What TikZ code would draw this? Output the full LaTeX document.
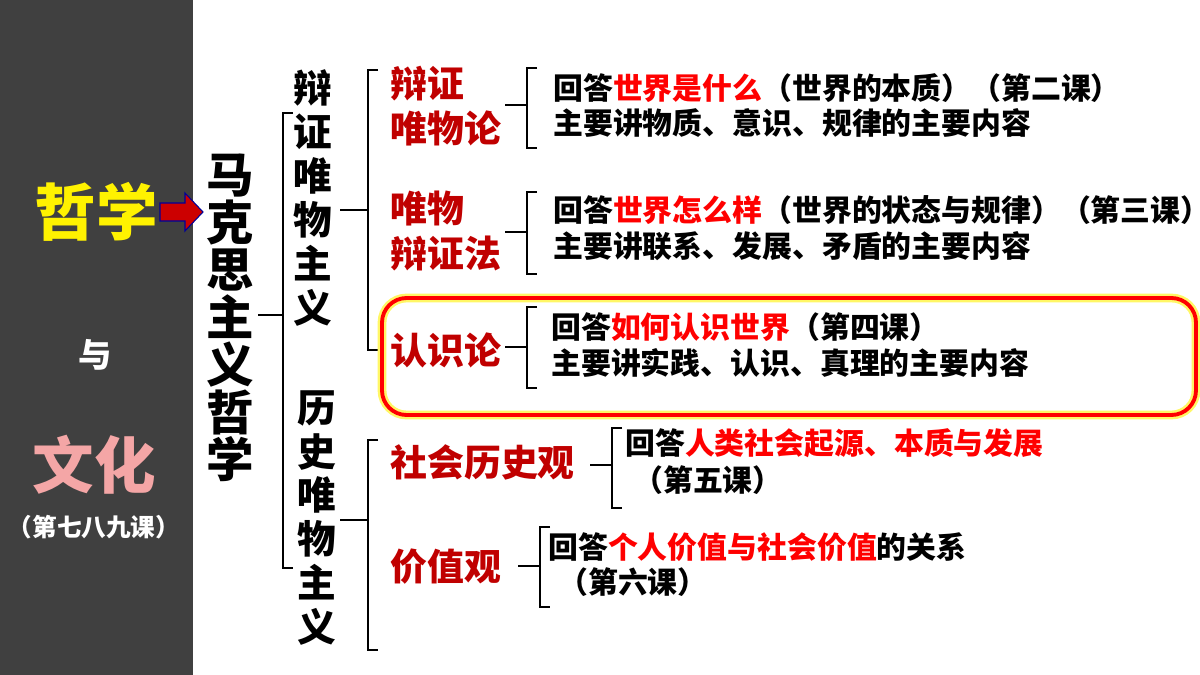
\documentclass[tikz,border=0pt]{standalone}
\usepackage{fontspec}
\setmainfont{Noto Sans CJK SC}
\usetikzlibrary{arrows.meta}
\definecolor{darkred}{HTML}{C00000}
\definecolor{panel}{HTML}{404040}
\definecolor{pinkish}{HTML}{F4A6A6}
\tikzset{
  lbl/.style={text=darkred,font=\fontsize{21}{26}\selectfont\bfseries,anchor=west,align=left,inner sep=0pt},
  txt/.style={font=\fontsize{17}{20}\selectfont\bfseries,anchor=west,inner sep=0pt},
  vert/.style 2 args={font=\fontsize{#1}{#2}\selectfont\bfseries,align=center,inner sep=0pt},
  brk/.style={line width=1.2pt}
}
\newcommand{\hl}[1]{\textcolor{red}{#1}}
% bracket: x, top, tip, bottom, stub end
\newcommand{\brk}[5]{\draw[brk] (#1+10,#2) -- (#1,#2) -- (#1,#3) -- (#5,#3) (#1,#3) -- (#1,#4) -- (#1+10,#4);}
\begin{document}
\begin{tikzpicture}[x=0.02cm,y=-0.02cm]
\useasboundingbox (0,0) rectangle (1200,675);
\fill[panel] (0,0) rectangle (193,675);
%\draw[step=50,gray,very thin] (0,0) grid (1200,675);
\node[text=yellow,font=\fontsize{35}{36}\selectfont\bfseries] (zhe) at (96,212) {哲学};
\node[text=white,font=\fontsize{19}{20}\selectfont\bfseries] (yu) at (95,355) {与};
\node[text=pinkish,font=\fontsize{35}{36}\selectfont\bfseries] (wh) at (94,465) {文化};
\node[text=white,font=\fontsize{14}{16}\selectfont\bfseries] (kc) at (94,527) {（第七八九课）};
\filldraw[fill=red!80!black,draw=blue!60!black,line width=0.6pt]
  (160,203) -- (185,203) -- (185,193) -- (203,212) -- (185,231) -- (185,221) -- (160,221) -- cycle;
\node[vert={27}{27}] (mks) at (230,318) {马\\克\\思\\主\\义\\哲\\学};
\brk{283}{113}{315}{568}{258}
\node[vert={22}{25}] (bz) at (313,198) {辩\\证\\唯\\物\\主\\义};
\node[vert={22}{25}] (ls) at (317,518) {历\\史\\唯\\物\\主\\义};
\brk{368}{70}{210}{350}{340}
\brk{368}{440}{520}{650}{340}
% highlight box
\draw[rounded corners=14pt,yellow!60,line width=5pt] (382,298) rectangle (1196,415);
\draw[rounded corners=14pt,red,line width=2.2pt] (382,298) rectangle (1196,415);
\node[lbl] (bzwwl) at (390,106) {辩证\\唯物论};
\node[lbl] (wwbzf) at (390,231) {唯物\\辩证法};
\node[lbl] (rsl) at (390,350) {认识论};
\node[lbl] (shlsg) at (390,462) {社会历史观};
\node[lbl] (jzg) at (390,567) {价值观};
\brk{527}{68}{105}{148}{505}
\brk{527}{192}{232}{274}{505}
\brk{527}{307}{347}{388}{505}
\brk{612}{428}{465}{508}{590}
\brk{540}{527}{566}{607}{518}
\node[txt] (t1) at (553,88) {回答\hl{世界是什么}（世界的本质）（第二课）};
\node[txt] (t2) at (553,123) {主要讲物质、意识、规律的主要内容};
\node[txt] (t3) at (553,210) {回答\hl{世界怎么样}（世界的状态与规律）（第三课）};
\node[txt] (t4) at (553,246) {主要讲联系、发展、矛盾的主要内容};
\node[txt] (t5) at (551,327) {回答\hl{如何认识世界}（第四课）};
\node[txt] (t6) at (551,363) {主要讲实践、认识、真理的主要内容};
\node[txt] (t7) at (625,443) {回答\hl{人类社会起源、本质与发展}};
\node[txt] (t8) at (633,480) {（第五课）};
\node[txt] (t9) at (548,547) {回答\hl{个人价值与社会价值}的关系};
\node[txt] (t10) at (558,582) {（第六课）};
\end{tikzpicture}
\end{document}
